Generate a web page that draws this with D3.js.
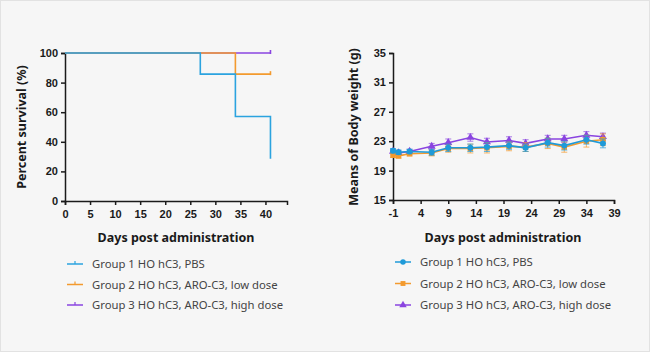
<!DOCTYPE html>
<html>
<head>
<meta charset="utf-8">
<script src="https://cdn.jsdelivr.net/npm/d3@7"></script>
<style>
  body { margin: 0; background: #f6f6f6; }
  svg { display: block; font-family: "Noto Sans", "Open Sans", sans-serif; }
</style>
</head>
<body>
<svg id="chart" width="650" height="352"></svg>
<script>
const ink = "#1a1a1a";
const groups = ["Group 1 HO hC3, PBS", "Group 2 HO hC3, ARO-C3, low dose", "Group 3 HO hC3, ARO-C3, high dose"];
const colors = ["#2ba3df", "#f39a2e", "#8a44e0"];

// survival steps: [day, percent]
const surv1 = [[0, 100], [27, 100], [27, 85.7], [34, 85.7], [34, 57.1], [41, 57.1], [41, 28.6]];
const surv2 = [[0, 100], [34, 100], [34, 85.7], [41, 85.7]];
const surv3 = [[0, 100], [41, 100]];

// body weight
const days = [-1, 0, 2, 6, 9, 13, 16, 20, 23, 27, 30, 34, 37];
const w1 = [21.7, 21.5, 21.6, 21.5, 22.1, 22.1, 22.2, 22.4, 22.1, 22.8, 22.4, 23.2, 22.7];
const w2 = [21.1, 21.0, 21.3, 21.4, 22.0, 22.0, 22.1, 22.3, 22.2, 22.7, 22.2, 23.0, 23.2];
const w3 = [21.6, 21.4, 21.6, 22.3, 22.8, 23.5, 22.9, 23.1, 22.7, 23.3, 23.3, 23.8, 23.6];
const e1 = [0.3, 0.3, 0.3, 0.4, 0.5, 0.5, 0.6, 0.5, 0.5, 0.6, 0.6, 0.6, 0.6];
const e2 = [0.3, 0.3, 0.3, 0.4, 0.5, 0.6, 0.7, 0.6, 0.6, 0.7, 0.7, 0.8, 0.8];
const e3 = [0.3, 0.3, 0.3, 0.4, 0.5, 0.5, 0.5, 0.5, 0.5, 0.5, 0.5, 0.5, 0.5];

const survTicksX = [0, 5, 10, 15, 20, 25, 30, 35, 40];
const survTicksY = [0, 20, 40, 60, 80, 100];
const bwTicksX = [-1, 4, 9, 14, 19, 24, 29, 34, 39];
const bwTicksY = [15, 19, 23, 27, 31, 35];

const svg = d3.select("#chart");
svg.append("rect").attr("x", 0.5).attr("y", 0.5).attr("width", 649).attr("height", 351)
  .attr("fill", "#f6f6f6").attr("stroke", "#e2e2e2");

const plain = d => String(d);

function styleAxis(g) {
  g.selectAll("path, line").attr("stroke", ink).attr("stroke-width", 1.5);
  g.selectAll("text").attr("fill", ink).style("font-size", "11px").style("font-weight", "600");
}

// ---- left: survival ----
const sx = d3.scaleLinear().domain([0, 44.3]).range([65, 287]);
const sy = d3.scaleLinear().domain([0, 100]).range([201, 53]);

svg.append("g").attr("transform", "translate(0,201)")
  .call(d3.axisBottom(sx).tickValues(survTicksX).tickFormat(plain).tickSizeOuter(0).tickSize(4).tickPadding(5))
  .call(styleAxis);
svg.append("g").attr("transform", "translate(65,0)")
  .call(d3.axisLeft(sy).tickValues(survTicksY).tickFormat(plain).tickSizeOuter(0).tickSize(4).tickPadding(3))
  .call(styleAxis);

const sline = d3.line().x(d => sx(d[0])).y(d => sy(d[1]));
[surv3, surv2, surv1].forEach((s, i) => {
  const c = colors[2 - i];
  svg.append("path").datum(s).attr("d", sline)
    .attr("fill", "none").attr("stroke", c).attr("stroke-width", 1.6);
  // censor tick at end
  const last = s[s.length - 1];
  if (i < 2) {
    svg.append("line")
      .attr("x1", sx(last[0])).attr("x2", sx(last[0]))
      .attr("y1", sy(last[1]) - 3).attr("y2", sy(last[1]) + 1)
      .attr("stroke", c).attr("stroke-width", 1.6);
  }
});

svg.append("text").attr("x", 176).attr("y", 242).attr("text-anchor", "middle")
  .attr("fill", ink).style("font-size", "12.5px").style("font-weight", "700")
  .text("Days post administration");
svg.append("text").attr("transform", "translate(26,127) rotate(-90)").attr("text-anchor", "middle")
  .attr("fill", ink).style("font-size", "12.5px").style("font-weight", "700")
  .text("Percent survival (%)");

// left legend
groups.forEach((g, i) => {
  const y = 264 + i * 20.5;
  svg.append("line").attr("x1", 67).attr("x2", 83).attr("y1", y).attr("y2", y)
    .attr("stroke", colors[i]).attr("stroke-width", 1.5);
  svg.append("line").attr("x1", 75).attr("x2", 75).attr("y1", y - 3).attr("y2", y)
    .attr("stroke", colors[i]).attr("stroke-width", 1.2);
  svg.append("text").attr("x", 92).attr("y", y + 4).attr("fill", "#444")
    .style("font-size", "11.3px").text(g);
});

// ---- right: body weight ----
const bx = d3.scaleLinear().domain([-1, 39]).range([393, 614]);
const by = d3.scaleLinear().domain([15, 35]).range([200, 53]);

svg.append("g").attr("transform", "translate(0,200)")
  .call(d3.axisBottom(bx).tickValues(bwTicksX).tickFormat(plain).tickSizeOuter(0).tickSize(4).tickPadding(5))
  .call(styleAxis);
svg.append("g").attr("transform", "translate(393,0)")
  .call(d3.axisLeft(by).tickValues(bwTicksY).tickFormat(plain).tickSizeOuter(0).tickSize(4).tickPadding(3))
  .call(styleAxis);

const series = [
  { v: w3, e: e3, c: colors[2], sym: d3.symbolTriangle },
  { v: w2, e: e2, c: colors[1], sym: d3.symbolSquare },
  { v: w1, e: e1, c: "#1f9ad8", sym: d3.symbolCircle }
];
const bline = d3.line().x(d => bx(d[0])).y(d => by(d[1]));
series.forEach(s => {
  const pts = days.map((d, i) => [d, s.v[i], s.e[i]]);
  const g = svg.append("g");
  g.selectAll(".eb").data(pts).join("path")
    .attr("d", d => {
      const x = bx(d[0]), y1 = by(d[1] + d[2]), y2 = by(d[1] - d[2]);
      return `M${x},${y1}V${y2}M${x - 3},${y1}H${x + 3}M${x - 3},${y2}H${x + 3}`;
    })
    .attr("stroke", s.c).attr("stroke-width", 1).attr("fill", "none").attr("opacity", 0.7);
  g.append("path").datum(pts).attr("d", bline)
    .attr("fill", "none").attr("stroke", s.c).attr("stroke-width", 1.6);
  g.selectAll(".pt").data(pts).join("path")
    .attr("transform", d => `translate(${bx(d[0])},${by(d[1])})`)
    .attr("d", d3.symbol().type(s.sym).size(s.sym === d3.symbolSquare ? 30 : 28))
    .attr("fill", s.c);
});

svg.append("text").attr("x", 503).attr("y", 242).attr("text-anchor", "middle")
  .attr("fill", ink).style("font-size", "12.5px").style("font-weight", "700")
  .text("Days post administration");
svg.append("text").attr("transform", "translate(358,127) rotate(-90)").attr("text-anchor", "middle")
  .attr("fill", ink).style("font-size", "12.5px").style("font-weight", "700")
  .text("Means of Body weight (g)");

// right legend
const legSyms = [d3.symbolCircle, d3.symbolSquare, d3.symbolTriangle];
const legCols = ["#1f9ad8", colors[1], colors[2]];
groups.forEach((g, i) => {
  const y = 262 + i * 21.5;
  svg.append("line").attr("x1", 395).attr("x2", 411).attr("y1", y).attr("y2", y)
    .attr("stroke", legCols[i]).attr("stroke-width", 1.5);
  svg.append("path").attr("transform", `translate(403,${y})`)
    .attr("d", d3.symbol().type(legSyms[i]).size(24)).attr("fill", legCols[i]);
  svg.append("text").attr("x", 420).attr("y", y + 4).attr("fill", "#444")
    .style("font-size", "11.3px").text(g);
});
</script>
</body>
</html>
